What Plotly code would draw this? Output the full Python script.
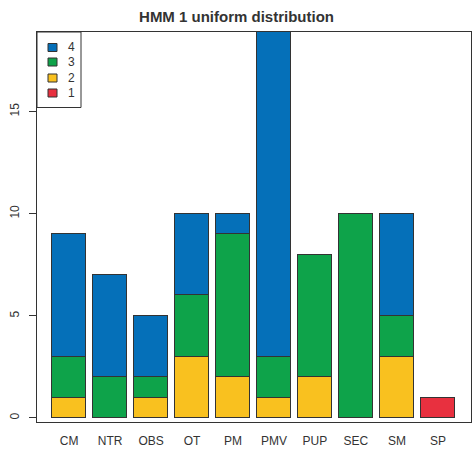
import plotly.graph_objects as go

categories = ["CM", "NTR", "OBS", "OT", "PM", "PMV", "PUP", "SEC", "SM", "SP"]
s1 = [0, 0, 0, 0, 0, 0, 0, 0, 0, 1]
s2 = [1, 0, 1, 3, 2, 1, 2, 0, 3, 0]
s3 = [2, 2, 1, 3, 7, 2, 6, 10, 2, 0]
s4 = [6, 5, 3, 4, 1, 16, 0, 0, 5, 0]
series_names = ["1", "2", "3", "4"]
series_vals = [s1, s2, s3, s4]
colors = ["#e8303f", "#f9c11f", "#0ea34a", "#0570b9"]
yticks = [0, 5, 10, 15]

xpos = [0.7 + 1.2 * i for i in range(len(categories))]

fig = go.Figure()
for name, vals, col in zip(series_names, series_vals, colors):
    fig.add_trace(go.Bar(
        x=xpos, y=vals, name=name, width=1.0,
        marker=dict(color=col, line=dict(color="#333333", width=1)),
        showlegend=False, hoverinfo="skip",
    ))

L, R, T, B = 37, 1, 32, 29
W, H = 472, 451
pw, ph = W - L - R, H - T - B

def px(x):
    return (x - L) / pw

def py(y):
    return (H - B - y) / ph

shapes = []
annotations = []
# legend box
shapes.append(dict(type="rect", xref="paper", yref="paper",
                   x0=px(37), x1=px(81), y0=py(107.5), y1=py(32),
                   line=dict(color="#333333", width=1), fillcolor="white", layer="above"))
leg_y = [47.5, 62, 78, 93]
for i, (name, col) in enumerate(zip(reversed(series_names), reversed(colors))):
    yc = leg_y[i]
    shapes.append(dict(type="rect", xref="paper", yref="paper",
                       x0=px(48), x1=px(57), y0=py(yc + 4), y1=py(yc - 4),
                       line=dict(color="#333333", width=1), fillcolor=col, layer="above"))
    annotations.append(dict(xref="paper", yref="paper", x=px(71.5), y=py(yc),
                            text=name, showarrow=False, xanchor="center", yanchor="middle",
                            font=dict(size=12, color="#333333")))

fig.update_layout(
    width=W, height=H,
    margin=dict(l=L, r=R, t=T, b=B, pad=0),
    barmode="stack",
    bargap=0,
    plot_bgcolor="white", paper_bgcolor="white",
    font=dict(family="Liberation Sans, Arial, sans-serif", color="#333333", size=12),
    title=dict(text="<b>HMM 1 uniform distribution</b>", x=px(254.5), xanchor="center",
               y=1 - 17 / H, yanchor="middle", font=dict(size=15, color="#333333")),
    xaxis=dict(range=[-0.24, 12.47], tickvals=xpos, ticktext=categories,
               showgrid=False, zeroline=False, ticks="", showline=True, mirror=True,
               linecolor="#333333", linewidth=1, tickfont=dict(size=12, color="#333333"),
               ticklabelstandoff=8, automargin=False),
    yaxis=dict(range=[-0.2, 18.9], tickvals=yticks, ticktext=[str(v) for v in yticks],
               showgrid=False, zeroline=False, ticks="outside", ticklen=7,
               tickcolor="#333333", showline=True, mirror=True, linecolor="#333333",
               linewidth=1, tickangle=-90, tickfont=dict(size=12, color="#333333"),
               ticklabelstandoff=5, automargin=False),
    shapes=shapes,
    annotations=annotations,
)

fig.write_html("out.html", config={"displayModeBar": False},
               post_script="document.body.style.margin='0';document.body.style.padding='0';")
